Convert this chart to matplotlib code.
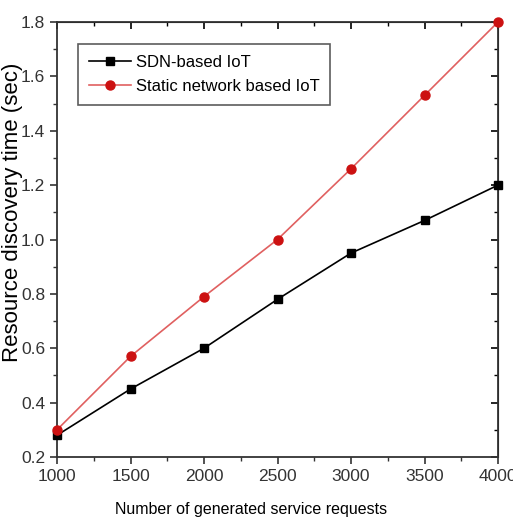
import numpy as np
import matplotlib.pyplot as plt
from matplotlib.ticker import MultipleLocator

plt.rcParams['font.family'] = ['Liberation Sans', 'DejaVu Sans']

# values
requests = [1000, 1500, 2000, 2500, 3000, 3500, 4000]
sdn_time = [0.28, 0.45, 0.60, 0.78, 0.95, 1.07, 1.20]
static_time = [0.30, 0.57, 0.79, 1.00, 1.26, 1.53, 1.80]

fig = plt.figure(figsize=(5.13, 5.27), dpi=100)
ax = fig.add_axes([57/513, 70/527, 441/513, 435/527])

ax.plot(requests, sdn_time, color='black', marker='s', markersize=6, lw=1.2,
        label='SDN-based IoT', clip_on=False, zorder=3)
ax.plot(requests, static_time, color='#e06060', marker='o', markersize=6.5, lw=1.2,
        markerfacecolor='#cc1111', markeredgecolor='#cc1111',
        label='Static network based IoT', clip_on=False, zorder=3)

ax.set_xlim(1000, 4000)
ax.set_ylim(0.2, 1.8)
ax.xaxis.set_major_locator(MultipleLocator(500))
ax.xaxis.set_minor_locator(MultipleLocator(250))
ax.yaxis.set_major_locator(MultipleLocator(0.2))
ax.yaxis.set_minor_locator(MultipleLocator(0.1))
ax.yaxis.set_major_formatter(plt.FormatStrFormatter('%.1f'))

ax.tick_params(which='both', direction='out', top=False, right=False, labelsize=12.5, colors='#333333')
ax.tick_params(which='major', length=5, width=1.2)
ax.tick_params(which='minor', length=3, width=1)
for sp in ax.spines.values():
    sp.set_linewidth(1.3)
    sp.set_color('#333333')

# inward ticks on top/right like the original
ax2 = ax.secondary_xaxis('top')
ax2.xaxis.set_major_locator(MultipleLocator(500))
ax2.xaxis.set_minor_locator(MultipleLocator(250))
ax2.tick_params(which='both', direction='in', labeltop=False)
ax2.tick_params(which='major', length=5, width=1.2)
ax2.tick_params(which='minor', length=3, width=1)
ax3 = ax.secondary_yaxis('right')
ax3.yaxis.set_major_locator(MultipleLocator(0.2))
ax3.yaxis.set_minor_locator(MultipleLocator(0.1))
ax3.tick_params(which='both', direction='in', labelright=False)
ax3.tick_params(which='major', length=5, width=1.2)
ax3.tick_params(which='minor', length=3, width=1)

ax.set_xlabel('Number of generated service requests', fontsize=11.5)
ax.xaxis.set_label_coords(0.44, -0.103)
ax.set_ylabel('Resource discovery time (sec)', fontsize=16)
ax.yaxis.set_label_coords(-0.077, 0.563)

leg = ax.legend(loc='upper left', bbox_to_anchor=(0.048, 0.949), borderaxespad=0,
                fontsize=12, frameon=True, fancybox=False, edgecolor='#333333',
                handlelength=2.5, handletextpad=0.3, borderpad=0.65, labelspacing=0.55)
leg.get_frame().set_linewidth(1.2)

fig.savefig('out.png', dpi=100)
